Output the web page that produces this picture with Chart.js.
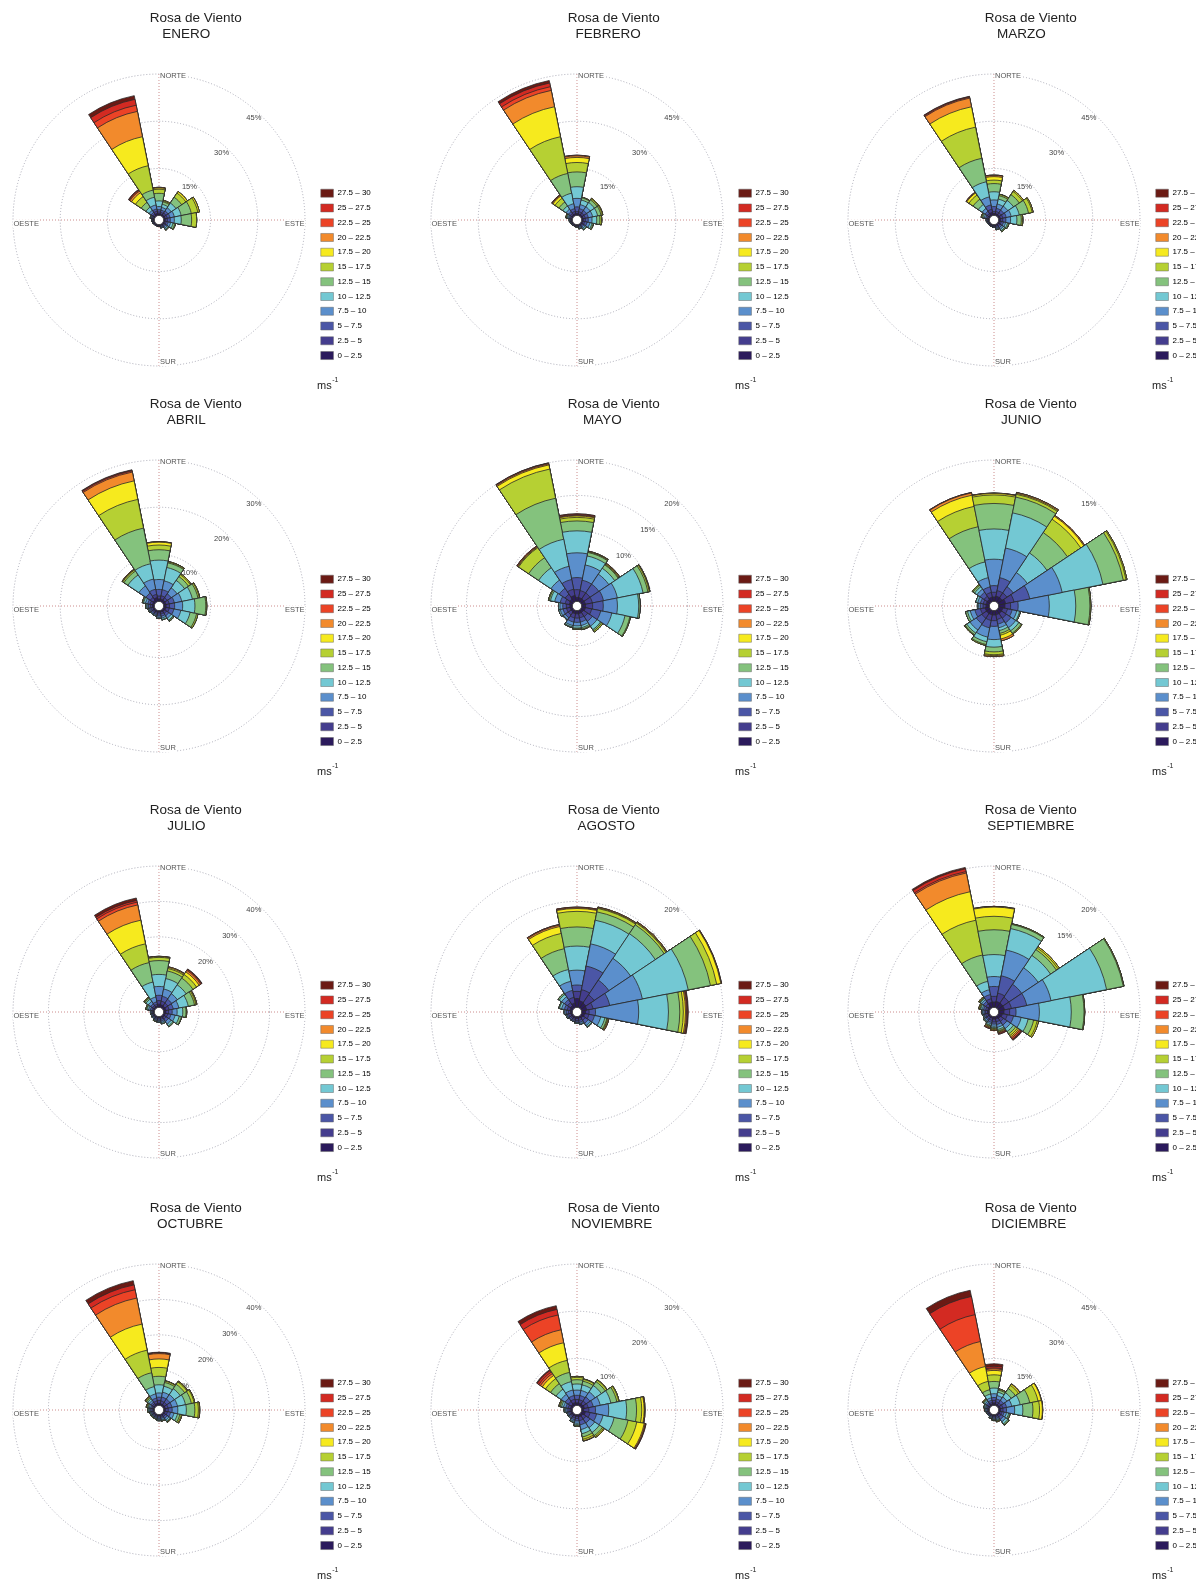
<!DOCTYPE html>
<html>
<head>
<meta charset="utf-8">
<script src="https://cdn.jsdelivr.net/npm/chart.js"></script>
<style>
  html, body { margin: 0; padding: 0; background: #fff; overflow: hidden; }
  #wrap { position: relative; width: 1196px; height: 1585px; overflow: hidden; }
  #wrap canvas { position: absolute; }
</style>
</head>
<body>
<div id="wrap"></div>
<script>
// 16 directions, clockwise from north
const directions = ['N', 'NNE', 'NE', 'ENE', 'E', 'ESE', 'SE', 'SSE', 'S', 'SSW', 'SW', 'WSW', 'W', 'WNW', 'NW', 'NNW']
const speedBins = ['0 – 2.5', '2.5 – 5', '5 – 7.5', '7.5 – 10', '10 – 12.5', '12.5 – 15', '15 – 17.5', '17.5 – 20', '20 – 22.5', '22.5 – 25', '25 – 27.5', '27.5 – 30']
const binColors = ['#2b1a5c', '#443d8e', '#4b56a6', '#5b8fcc', '#73c8d3', '#84c27d', '#b6d033', '#f6ea1e', '#f28a2c', '#ec4326', '#d32a22', '#6b1a14']
const months = ['ENERO', 'FEBRERO', 'MARZO', 'ABRIL', 'MAYO', 'JUNIO', 'JULIO', 'AGOSTO', 'SEPTIEMBRE', 'OCTUBRE', 'NOVIEMBRE', 'DICIEMBRE']
// outer ring (%) and ring step (%) of each rose
const ringMax = [45, 45, 45, 30, 20, 15, 40, 20, 20, 40, 30, 45]
const ringStep = [15, 15, 15, 10, 5, 5, 10, 5, 5, 10, 10, 15]

// frequency (%) per direction (rows) and speed bin (columns, 0-2.5 ... 27.5-30 m/s)
const enero = [
  [0.6, 0.6, 0.7, 1.0, 1.8, 2.4, 1.3, 0.4, 0.2, 0, 0, 0],
  [0.5, 0.6, 0.7, 0.9, 1.0, 0.8, 0.3, 0.2, 0, 0, 0, 0],
  [0.6, 0.7, 0.8, 1.2, 1.8, 2.2, 1.6, 0.6, 0, 0, 0, 0],
  [0.6, 0.7, 0.9, 1.4, 2.2, 3.3, 2.1, 0.5, 0, 0, 0, 0],
  [0.6, 0.7, 0.9, 1.3, 2.2, 3.3, 1.6, 0, 0, 0, 0, 0],
  [0.5, 0.5, 0.6, 0.8, 0.8, 0.6, 0.2, 0, 0, 0, 0, 0],
  [0.4, 0.4, 0.5, 0.5, 0.4, 0.2, 0.1, 0, 0, 0, 0, 0],
  [0.3, 0.3, 0.3, 0.2, 0.1, 0, 0, 0, 0, 0, 0, 0],
  [0.3, 0.2, 0.1, 0.1, 0, 0, 0, 0, 0, 0, 0, 0],
  [0.3, 0.2, 0.1, 0, 0, 0, 0, 0, 0, 0, 0, 0],
  [0.3, 0.2, 0.1, 0, 0, 0, 0, 0, 0, 0, 0, 0],
  [0.3, 0.2, 0.2, 0.1, 0, 0, 0, 0, 0, 0, 0, 0],
  [0.3, 0.3, 0.2, 0.1, 0.1, 0, 0, 0, 0, 0, 0, 0],
  [0.4, 0.4, 0.3, 0.2, 0.1, 0.1, 0, 0, 0, 0, 0, 0],
  [0.5, 0.5, 0.6, 0.8, 1.2, 1.8, 2.2, 1.5, 0.6, 0.3, 0.2, 0.1],
  [0.8, 0.7, 0.7, 1.3, 2.5, 2.3, 7.9, 9.4, 8.2, 2.0, 1.9, 1.2]
]
const febrero = [
  [0.7, 0.6, 1.5, 2.7, 3.7, 4.7, 3.0, 1.6, 0.5, 0.2, 0, 0],
  [0.6, 0.7, 1.0, 1.3, 1.5, 0.7, 0.2, 0, 0, 0, 0, 0],
  [0.6, 0.7, 1.0, 1.4, 1.6, 1.0, 0.4, 0.2, 0, 0, 0, 0],
  [0.6, 0.7, 1.0, 1.4, 1.6, 1.1, 0.4, 0.2, 0, 0, 0, 0],
  [0.6, 0.7, 0.9, 1.2, 1.5, 1.0, 0.5, 0.1, 0, 0, 0, 0],
  [0.5, 0.6, 0.8, 0.9, 0.7, 0.4, 0.1, 0, 0, 0, 0, 0],
  [0.4, 0.4, 0.5, 0.5, 0.4, 0.2, 0, 0, 0, 0, 0, 0],
  [0.3, 0.3, 0.3, 0.3, 0.2, 0.1, 0, 0, 0, 0, 0, 0],
  [0.3, 0.2, 0.2, 0.1, 0.1, 0, 0, 0, 0, 0, 0, 0],
  [0.3, 0.2, 0.1, 0.1, 0, 0, 0, 0, 0, 0, 0, 0],
  [0.3, 0.2, 0.1, 0.1, 0, 0, 0, 0, 0, 0, 0, 0],
  [0.3, 0.2, 0.2, 0.1, 0.1, 0, 0, 0, 0, 0, 0, 0],
  [0.3, 0.3, 0.2, 0.2, 0.1, 0, 0, 0, 0, 0, 0, 0],
  [0.4, 0.4, 0.4, 0.4, 0.3, 0.2, 0.1, 0.1, 0, 0, 0, 0],
  [0.6, 0.6, 0.7, 0.9, 1.2, 1.5, 1.5, 0.8, 0.3, 0.1, 0.1, 0],
  [0.7, 0.7, 0.9, 1.6, 3.4, 6.4, 11.9, 9.7, 5.3, 1.2, 1.2, 0.8]
]
const marzo = [
  [0.7, 0.6, 1.6, 2.1, 2.6, 2.6, 1.1, 1.1, 0.4, 0.1, 0, 0],
  [0.7, 0.7, 1.0, 1.4, 1.6, 1.1, 0.4, 0.1, 0, 0, 0, 0],
  [0.7, 0.7, 1.0, 1.5, 2.2, 2.2, 1.2, 0.4, 0, 0, 0, 0],
  [0.7, 0.8, 1.1, 1.6, 2.6, 3.0, 1.2, 0.3, 0, 0, 0, 0],
  [0.7, 0.7, 1.0, 1.5, 2.0, 1.4, 0.4, 0.1, 0, 0, 0, 0],
  [0.5, 0.5, 0.7, 0.7, 0.6, 0.4, 0.1, 0, 0, 0, 0, 0],
  [0.5, 0.5, 0.6, 0.6, 0.5, 0.3, 0.1, 0, 0, 0, 0, 0],
  [0.4, 0.4, 0.4, 0.3, 0.2, 0.1, 0, 0, 0, 0, 0, 0],
  [0.3, 0.3, 0.2, 0.1, 0.1, 0, 0, 0, 0, 0, 0, 0],
  [0.3, 0.2, 0.2, 0.1, 0, 0, 0, 0, 0, 0, 0, 0],
  [0.3, 0.2, 0.1, 0.1, 0, 0, 0, 0, 0, 0, 0, 0],
  [0.3, 0.2, 0.2, 0.1, 0.1, 0, 0, 0, 0, 0, 0, 0],
  [0.3, 0.3, 0.2, 0.2, 0.1, 0, 0, 0, 0, 0, 0, 0],
  [0.4, 0.4, 0.5, 0.5, 0.4, 0.3, 0.2, 0.1, 0, 0, 0, 0],
  [0.6, 0.6, 0.8, 1.1, 1.5, 2.0, 1.6, 0.8, 0.2, 0.1, 0, 0],
  [1.1, 1.0, 1.4, 2.6, 4.9, 7.6, 10.1, 6.6, 2.8, 0.3, 0.2, 0.1]
]
const abril = [
  [0.6, 0.6, 1.4, 2.1, 4.1, 2.2, 1.0, 0.6, 0.1, 0, 0, 0],
  [0.6, 0.7, 1.3, 1.9, 2.9, 1.0, 0.2, 0.1, 0, 0, 0, 0],
  [0.6, 0.6, 1.0, 1.5, 1.9, 1.0, 0.5, 0.2, 0, 0, 0, 0],
  [0.6, 0.7, 1.1, 1.6, 2.3, 1.2, 0.3, 0.1, 0, 0, 0, 0],
  [0.6, 0.7, 1.1, 1.7, 2.6, 2.3, 0.2, 0, 0, 0, 0, 0],
  [0.6, 0.7, 1.0, 1.5, 2.0, 1.4, 0.3, 0, 0, 0, 0, 0],
  [0.5, 0.5, 0.6, 0.6, 0.5, 0.2, 0.1, 0, 0, 0, 0, 0],
  [0.4, 0.4, 0.5, 0.4, 0.3, 0.1, 0, 0, 0, 0, 0, 0],
  [0.4, 0.4, 0.4, 0.3, 0.2, 0, 0, 0, 0, 0, 0, 0],
  [0.4, 0.3, 0.3, 0.2, 0.1, 0, 0, 0, 0, 0, 0, 0],
  [0.4, 0.3, 0.3, 0.2, 0.1, 0, 0, 0, 0, 0, 0, 0],
  [0.4, 0.4, 0.3, 0.2, 0.1, 0.1, 0, 0, 0, 0, 0, 0],
  [0.5, 0.4, 0.4, 0.3, 0.2, 0.1, 0, 0, 0, 0, 0, 0],
  [0.5, 0.5, 0.5, 0.5, 0.4, 0.2, 0.1, 0, 0, 0, 0, 0],
  [0.6, 0.7, 1.1, 1.8, 2.8, 1.0, 0.3, 0.1, 0.1, 0, 0, 0],
  [0.9, 0.7, 1.1, 2.2, 3.3, 7.7, 6.2, 4.0, 1.9, 0.25, 0.15, 0.1]
]
const mayo = [
  [0.6, 1.1, 1.7, 3.5, 3.1, 1.4, 0.5, 0.2, 0.1, 0.1, 0.1, 0],
  [0.6, 1.0, 1.5, 2.2, 1.3, 0.5, 0.1, 0.05, 0.05, 0, 0, 0],
  [0.6, 1.0, 1.5, 1.7, 1.0, 0.6, 0.1, 0.1, 0.1, 0, 0, 0],
  [0.6, 1.0, 1.6, 2.0, 3.7, 0.7, 0.2, 0.05, 0.05, 0, 0, 0],
  [0.6, 1.0, 1.5, 2.0, 3.0, 0.2, 0, 0, 0, 0, 0, 0],
  [0.6, 0.9, 1.3, 1.6, 1.9, 0.7, 0.1, 0, 0, 0, 0, 0],
  [0.5, 0.7, 0.8, 0.8, 0.6, 0.2, 0.2, 0, 0, 0, 0, 0],
  [0.5, 0.6, 0.6, 0.5, 0.3, 0.2, 0.1, 0, 0, 0, 0, 0],
  [0.5, 0.6, 0.6, 0.5, 0.3, 0.1, 0.1, 0, 0, 0, 0, 0],
  [0.5, 0.6, 0.6, 0.5, 0.2, 0.1, 0, 0, 0, 0, 0, 0],
  [0.4, 0.5, 0.5, 0.3, 0.1, 0, 0, 0, 0, 0, 0, 0],
  [0.4, 0.5, 0.5, 0.4, 0.2, 0, 0, 0, 0, 0, 0, 0],
  [0.4, 0.5, 0.5, 0.4, 0.2, 0, 0, 0, 0, 0, 0, 0],
  [0.5, 0.6, 0.7, 0.8, 0.6, 0.2, 0.1, 0, 0, 0, 0, 0],
  [0.6, 0.8, 1.0, 1.4, 2.1, 1.7, 1.7, 0.1, 0.1, 0.1, 0, 0],
  [0.9, 0.9, 1.4, 1.9, 3.9, 5.9, 4.2, 0.6, 0.15, 0.1, 0.03, 0.02]
]
const junio = [
  [0.5, 0.5, 0.7, 2.8, 3.2, 2.7, 0.9, 0.15, 0.05, 0, 0, 0],
  [0.6, 0.6, 1.4, 3.2, 3.8, 1.7, 0.3, 0.1, 0.1, 0, 0, 0],
  [0.6, 0.6, 0.8, 1.8, 2.5, 2.6, 1.7, 0.4, 0.1, 0, 0, 0],
  [0.8, 0.9, 1.7, 3.5, 4.4, 2.2, 0.3, 0.1, 0, 0, 0, 0],
  [0.7, 0.6, 0.8, 3.3, 2.8, 1.5, 0.1, 0, 0, 0, 0, 0],
  [0.5, 0.5, 0.5, 0.5, 0.3, 0.1, 0, 0, 0, 0, 0, 0],
  [0.5, 0.6, 0.6, 0.6, 0.4, 0.3, 0.1, 0, 0, 0, 0, 0],
  [0.5, 0.5, 0.5, 0.4, 0.3, 0.3, 0.2, 0.4, 0.2, 0, 0, 0],
  [0.5, 0.6, 0.6, 1.4, 0.8, 0.5, 0.3, 0.1, 0.1, 0, 0, 0],
  [0.5, 0.6, 0.8, 1.0, 0.5, 0.3, 0.1, 0, 0, 0, 0, 0],
  [0.5, 0.6, 0.7, 0.8, 0.4, 0.2, 0.05, 0.05, 0, 0, 0, 0],
  [0.5, 0.5, 0.6, 0.5, 0.3, 0.2, 0, 0, 0, 0, 0, 0],
  [0.4, 0.3, 0.3, 0.2, 0.1, 0, 0, 0, 0, 0, 0, 0],
  [0.4, 0.3, 0.3, 0.3, 0.2, 0, 0, 0, 0, 0, 0, 0],
  [0.4, 0.4, 0.5, 0.4, 0.3, 0.2, 0.1, 0, 0, 0, 0, 0],
  [0.5, 0.5, 0.6, 1.0, 1.7, 3.8, 2.2, 1.2, 0.25, 0.05, 0, 0]
]
const julio = [
  [1.0, 1.0, 1.5, 2.5, 3.4, 3.9, 0.9, 0.2, 0.1, 0, 0, 0],
  [0.9, 1.0, 1.4, 2.1, 3.0, 2.2, 0.7, 0.3, 0.2, 0, 0, 0],
  [0.8, 1.0, 1.3, 1.9, 3.0, 2.3, 1.2, 0.9, 0.5, 0.3, 0.1, 0.1],
  [0.8, 0.9, 1.2, 1.6, 2.7, 1.8, 0.4, 0.2, 0.1, 0, 0, 0],
  [0.7, 0.8, 1.0, 1.4, 1.6, 0.9, 0.2, 0, 0, 0, 0, 0],
  [0.6, 0.7, 0.9, 1.2, 1.2, 0.6, 0.1, 0, 0, 0, 0, 0],
  [0.6, 0.6, 0.8, 0.9, 0.6, 0.3, 0, 0, 0, 0, 0, 0],
  [0.4, 0.5, 0.5, 0.4, 0.3, 0.1, 0, 0, 0, 0, 0, 0],
  [0.4, 0.4, 0.4, 0.3, 0.2, 0, 0, 0, 0, 0, 0, 0],
  [0.4, 0.4, 0.3, 0.2, 0.1, 0.1, 0.1, 0, 0, 0, 0, 0],
  [0.3, 0.3, 0.3, 0.2, 0.1, 0, 0, 0, 0, 0, 0, 0],
  [0.3, 0.3, 0.2, 0.2, 0.1, 0, 0, 0, 0, 0, 0, 0],
  [0.3, 0.3, 0.3, 0.2, 0.1, 0, 0, 0, 0, 0, 0, 0],
  [0.4, 0.4, 0.5, 0.5, 0.4, 0.2, 0.2, 0, 0, 0, 0, 0],
  [0.5, 0.5, 0.6, 0.8, 0.8, 0.4, 0.2, 0.1, 0, 0, 0, 0],
  [0.5, 0.5, 0.7, 1.4, 4.3, 5.6, 5.4, 6.8, 4.4, 0.8, 0.5, 0.7]
]
const agosto = [
  [1.3, 1.0, 0.9, 2.1, 3.4, 2.7, 2.2, 0.4, 0.1, 0.1, 0, 0],
  [1.0, 1.6, 3.4, 3.2, 3.4, 1.2, 0.5, 0.1, 0.1, 0, 0, 0],
  [0.9, 1.4, 2.5, 3.7, 4.2, 1.5, 0.3, 0.1, 0.1, 0, 0, 0],
  [0.8, 0.9, 2.4, 4.7, 6.6, 3.2, 0.9, 0.6, 0.05, 0.05, 0, 0],
  [0.6, 0.5, 0.9, 6.1, 4.2, 1.6, 0.5, 0.3, 0.15, 0.1, 0.1, 0.05],
  [0.5, 0.6, 0.8, 0.9, 0.6, 0.3, 0.1, 0.1, 0.1, 0, 0, 0],
  [0.4, 0.4, 0.5, 0.4, 0.2, 0.1, 0, 0, 0, 0, 0, 0],
  [0.3, 0.3, 0.3, 0.2, 0.1, 0, 0, 0, 0, 0, 0, 0],
  [0.3, 0.3, 0.2, 0.1, 0.1, 0, 0, 0, 0, 0, 0, 0],
  [0.3, 0.2, 0.2, 0.1, 0, 0, 0, 0, 0, 0, 0, 0],
  [0.3, 0.2, 0.2, 0.1, 0, 0, 0, 0, 0, 0, 0, 0],
  [0.3, 0.3, 0.2, 0.1, 0.1, 0, 0, 0, 0, 0, 0, 0],
  [0.3, 0.3, 0.3, 0.2, 0.1, 0, 0, 0, 0, 0, 0, 0],
  [0.4, 0.4, 0.4, 0.4, 0.3, 0.1, 0, 0, 0, 0, 0, 0],
  [0.5, 0.5, 0.5, 0.5, 0.4, 0.2, 0, 0, 0, 0, 0, 0],
  [0.7, 0.8, 1.0, 1.3, 1.7, 3.0, 2.2, 1.0, 0.2, 0.1, 0, 0]
]
const septiembre = [
  [0.8, 0.8, 1.4, 1.4, 3.1, 3.5, 1.9, 1.3, 0.05, 0.05, 0, 0],
  [0.9, 1.2, 2.5, 3.7, 3.1, 0.6, 0.1, 0, 0, 0, 0, 0],
  [0.9, 1.0, 2.2, 2.8, 2.1, 1.0, 0.3, 0.2, 0, 0, 0, 0],
  [0.9, 1.0, 2.2, 3.5, 8.0, 2.4, 0.1, 0, 0, 0, 0, 0],
  [0.8, 0.8, 0.9, 3.3, 4.5, 1.8, 0.1, 0, 0, 0, 0, 0],
  [0.6, 0.7, 0.9, 1.1, 1.0, 0.8, 0.5, 0.2, 0, 0, 0, 0],
  [0.5, 0.5, 0.6, 0.6, 0.5, 0.4, 0.3, 0.2, 0.2, 0.2, 0.1, 0.1],
  [0.4, 0.4, 0.4, 0.4, 0.3, 0.2, 0.1, 0.1, 0.1, 0.1, 0.1, 0],
  [0.4, 0.4, 0.3, 0.3, 0.2, 0.1, 0.1, 0.1, 0.1, 0, 0, 0],
  [0.3, 0.3, 0.3, 0.2, 0.2, 0.1, 0.1, 0.1, 0.1, 0.1, 0, 0],
  [0.3, 0.3, 0.2, 0.2, 0.1, 0.1, 0, 0, 0, 0, 0, 0],
  [0.3, 0.3, 0.2, 0.1, 0.1, 0, 0, 0, 0, 0, 0, 0],
  [0.3, 0.3, 0.2, 0.2, 0.1, 0, 0, 0, 0, 0, 0, 0],
  [0.3, 0.3, 0.3, 0.2, 0.2, 0.1, 0.1, 0.1, 0, 0, 0, 0],
  [0.4, 0.4, 0.4, 0.3, 0.2, 0.1, 0.1, 0.1, 0, 0, 0, 0],
  [0.8, 0.5, 0.6, 0.7, 1.2, 3.8, 5.0, 4.1, 2.7, 0.2, 0.4, 0.2]
]
const octubre = [
  [0.7, 0.8, 0.9, 1.2, 2.3, 2.4, 2.5, 2.4, 1.5, 0.2, 0.1, 0.1],
  [0.6, 0.8, 1.1, 1.4, 1.7, 1.1, 0.4, 0.1, 0, 0, 0, 0],
  [0.6, 0.8, 1.1, 1.5, 2.0, 1.5, 0.8, 0.2, 0.1, 0, 0, 0],
  [0.6, 0.8, 1.1, 1.6, 2.3, 1.7, 0.8, 0.2, 0, 0, 0, 0],
  [0.6, 0.8, 1.1, 1.6, 2.4, 2.4, 1.0, 0.3, 0.1, 0, 0, 0],
  [0.5, 0.7, 0.9, 1.0, 1.0, 0.7, 0.4, 0.2, 0, 0, 0, 0],
  [0.5, 0.5, 0.6, 0.6, 0.4, 0.2, 0.1, 0.1, 0, 0, 0, 0],
  [0.4, 0.4, 0.4, 0.4, 0.2, 0.1, 0.1, 0, 0, 0, 0, 0],
  [0.4, 0.4, 0.4, 0.3, 0.2, 0.1, 0, 0, 0, 0, 0, 0],
  [0.4, 0.3, 0.3, 0.2, 0.1, 0.1, 0.1, 0, 0, 0, 0, 0],
  [0.4, 0.3, 0.3, 0.2, 0.1, 0.1, 0.1, 0, 0, 0, 0, 0],
  [0.4, 0.3, 0.3, 0.2, 0.2, 0.1, 0, 0, 0, 0, 0, 0],
  [0.4, 0.4, 0.4, 0.3, 0.3, 0.2, 0, 0, 0, 0, 0, 0],
  [0.4, 0.4, 0.4, 0.4, 0.3, 0.2, 0.2, 0.1, 0.1, 0, 0, 0],
  [0.5, 0.5, 0.5, 0.6, 0.5, 0.4, 0.3, 0.1, 0.1, 0, 0, 0],
  [0.7, 0.7, 0.8, 1.2, 2.1, 4.0, 6.5, 7.5, 7.5, 2.4, 1.4, 1.2]
]
const noviembre = [
  [0.6, 0.7, 0.9, 1.1, 1.3, 0.9, 0.5, 0.2, 0, 0, 0, 0],
  [0.6, 0.7, 0.9, 1.1, 1.2, 0.8, 0.4, 0.1, 0, 0, 0, 0],
  [0.6, 0.8, 1.0, 1.3, 1.6, 1.0, 0.4, 0.1, 0, 0, 0, 0],
  [0.7, 0.8, 1.1, 1.5, 2.3, 1.3, 0.4, 0.1, 0, 0, 0, 0],
  [0.5, 1.1, 1.4, 2.8, 3.8, 2.1, 1.1, 0.5, 0.1, 0.1, 0, 0],
  [0.9, 1.0, 1.4, 1.4, 2.4, 3.0, 1.9, 1.6, 0.2, 0.1, 0.1, 0],
  [0.6, 0.8, 1.0, 1.2, 1.2, 0.8, 0.3, 0.2, 0, 0, 0, 0],
  [0.6, 0.8, 0.9, 1.0, 0.9, 0.7, 0.5, 0.3, 0.1, 0, 0, 0],
  [0.4, 0.5, 0.5, 0.5, 0.3, 0.2, 0.1, 0, 0, 0, 0, 0],
  [0.4, 0.4, 0.4, 0.3, 0.2, 0.1, 0, 0, 0, 0, 0, 0],
  [0.4, 0.3, 0.3, 0.2, 0.1, 0, 0, 0, 0, 0, 0, 0],
  [0.4, 0.3, 0.3, 0.2, 0.1, 0, 0, 0, 0, 0, 0, 0],
  [0.4, 0.4, 0.4, 0.3, 0.2, 0.1, 0, 0, 0, 0, 0, 0],
  [0.5, 0.5, 0.5, 0.5, 0.4, 0.3, 0.2, 0.1, 0, 0, 0, 0],
  [0.6, 0.7, 0.8, 1.0, 1.3, 1.4, 1.3, 0.8, 0.5, 0.4, 0.4, 0.2],
  [0.7, 0.7, 0.8, 1.2, 1.8, 2.0, 2.6, 3.8, 2.8, 3.2, 1.2, 0.8]
]
const diciembre = [
  [0.9, 0.8, 0.9, 1.2, 1.8, 2.1, 2.1, 1.4, 0.5, 0.3, 0.5, 0.8],
  [0.6, 0.7, 0.9, 1.1, 1.1, 0.7, 0.3, 0.1, 0, 0, 0, 0],
  [0.6, 0.7, 1.0, 1.3, 1.6, 1.6, 1.2, 0.5, 0.1, 0, 0, 0],
  [0.7, 0.8, 1.2, 1.7, 2.7, 3.1, 2.7, 1.0, 0.1, 0, 0, 0],
  [0.7, 0.8, 1.1, 2.6, 2.6, 3.2, 2.1, 0.9, 0.1, 0, 0, 0],
  [0.6, 0.6, 0.7, 0.8, 0.7, 0.4, 0.1, 0, 0, 0, 0, 0],
  [0.6, 0.7, 0.9, 0.9, 0.8, 0.4, 0.1, 0, 0, 0, 0, 0],
  [0.4, 0.4, 0.5, 0.4, 0.3, 0.2, 0.1, 0.1, 0.1, 0, 0, 0],
  [0.4, 0.4, 0.4, 0.3, 0.2, 0.1, 0.1, 0.1, 0, 0, 0, 0],
  [0.3, 0.3, 0.3, 0.2, 0.2, 0.1, 0.1, 0, 0, 0, 0, 0],
  [0.3, 0.3, 0.2, 0.2, 0.1, 0, 0, 0, 0, 0, 0, 0],
  [0.3, 0.3, 0.2, 0.2, 0.1, 0, 0, 0, 0, 0, 0, 0],
  [0.3, 0.3, 0.3, 0.3, 0.2, 0.1, 0, 0, 0, 0, 0, 0],
  [0.4, 0.4, 0.4, 0.3, 0.3, 0.2, 0, 0, 0, 0, 0, 0],
  [0.5, 0.5, 0.5, 0.5, 0.4, 0.3, 0.2, 0.1, 0, 0, 0, 0],
  [0.6, 0.5, 0.7, 0.8, 1.2, 1.4, 2.7, 4.8, 8.1, 8.7, 5.9, 2.0]
]
const monthData = [enero, febrero, marzo, abril, mayo, junio, julio, agosto, septiembre, octubre, noviembre, diciembre]

const FONT = '"Liberation Sans", Arial, Helvetica, sans-serif'
Chart.defaults.font.family = FONT

const CANVAS_W = 418
const CANVAS_H = 400
const colLeft = [0, 418, 835]
const rowTop = [0, 386, 792, 1190]

// legend geometry: the legend column starts right after the plot area
const LEGEND_BOX_W = 12.7
const LEGEND_FONT = 8
const LEGEND_PAD = 6.76
const PLOT_RIGHT = 314
const measureCtx = document.createElement('canvas').getContext('2d')
measureCtx.font = LEGEND_FONT + 'px ' + FONT
const longestLabel = Math.max(...speedBins.map((t) => measureCtx.measureText(t).width))
const legendWidth = LEGEND_PAD + LEGEND_BOX_W + LEGEND_FONT / 2 + longestLabel + 10
const padRight = CANVAS_W - PLOT_RIGHT - legendWidth

const roseDecor = {
    id: 'roseDecor',
    beforeDatasetsDraw(chart) {
        const s = chart.scales.r
        const ctx = chart.ctx
        const cx = s.xCenter
        const cy = s.yCenter
        const R = s.drawingArea

        ctx.save()
        // compass cross
        ctx.strokeStyle = '#cc8c8c'
        ctx.lineWidth = 1
        ctx.setLineDash([1, 2])
        ctx.beginPath()
        ctx.moveTo(cx - R, cy)
        ctx.lineTo(cx + R, cy)
        ctx.moveTo(cx, cy - R)
        ctx.lineTo(cx, cy + R)
        ctx.stroke()
        ctx.setLineDash([])

        // ring labels along the north-east diagonal
        ctx.font = '7.5px ' + FONT
        ctx.fillStyle = '#444'
        ctx.textAlign = 'center'
        ctx.textBaseline = 'middle'
        const a = 43 * Math.PI / 180
        s.ticks.forEach((t) => {
            if (t.value <= 0) return
            const d = s.getDistanceFromCenterForValue(t.value) - 7
            ctx.fillText(t.value + '%', cx + d * Math.sin(a), cy - d * Math.cos(a))
        })

        // compass names
        const label = (text, x, y, alignRight) => {
            const w = ctx.measureText(text).width
            const left = alignRight ? x - w : x
            ctx.fillStyle = '#fff'
            ctx.fillRect(left - 0.5, y - 4.5, w + 1, 9)
            ctx.fillStyle = '#555'
            ctx.fillText(text, left, y)
        }
        ctx.textAlign = 'left'
        label('NORTE', cx + 1, cy - R + 2, false)
        label('SUR', cx + 1, cy + R - 4.5, false)
        label('ESTE', cx + R - 0.5, cy + 3.8, true)
        label('OESTE', cx - R + 0.5, cy + 3.8, false)
        ctx.restore()
    },
    afterDatasetsDraw(chart) {
        const s = chart.scales.r
        const ctx = chart.ctx
        const r0 = s.getDistanceFromCenterForValue(0)
        ctx.save()
        ctx.beginPath()
        ctx.arc(s.xCenter, s.yCenter, r0 + 0.3, 0, Math.PI * 2)
        ctx.fillStyle = '#fff'
        ctx.fill()
        ctx.strokeStyle = '#333'
        ctx.lineWidth = 0.8
        ctx.stroke()
        ctx.restore()
    },
    afterDraw(chart, args, opts) {
        const s = chart.scales.r
        const ctx = chart.ctx
        const cx = s.xCenter
        const cy = s.yCenter
        ctx.save()
        ctx.fillStyle = '#222'
        ctx.textAlign = 'left'
        ctx.textBaseline = 'middle'
        ctx.font = '13.5px ' + FONT
        const tx = cx + 36.7
        const line1 = 'Rosa de Viento'
        const line2 = opts.month.padEnd(10, ' ')
        ctx.fillText(line1, tx - ctx.measureText(line1).width / 2, cy - 202)
        ctx.fillText(line2, tx - ctx.measureText(line2).width / 2, cy - 186)

        ctx.font = '11px ' + FONT
        ctx.fillText('ms', cx + 158, cy + 166)
        const wm = ctx.measureText('ms').width
        ctx.font = '7px ' + FONT
        ctx.fillText('-1', cx + 158 + wm + 0.5, cy + 160)
        ctx.restore()
    }
}

const wrap = document.getElementById('wrap')

months.forEach((month, m) => {
    const rows = monthData[m]
    const max = ringMax[m]
    const step = ringStep[m]

    // stacked (cumulative) radius per speed bin
    const datasets = speedBins.map((bin, k) => ({
        label: bin,
        data: rows.map((row) => row.slice(0, k + 1).reduce((acc, v) => acc + v, 0)),
        backgroundColor: binColors[k],
        borderColor: '#2a2a2a',
        borderWidth: 0.8
    }))

    const canvas = document.createElement('canvas')
    canvas.width = CANVAS_W
    canvas.height = CANVAS_H
    canvas.style.left = colLeft[m % 3] + 'px'
    canvas.style.top = rowTop[Math.floor(m / 3)] + 'px'
    wrap.appendChild(canvas)

    new Chart(canvas, {
        type: 'polarArea',
        data: { labels: directions, datasets },
        options: {
            responsive: false,
            animation: false,
            events: [],
            layout: {
                padding: { left: 4, right: padRight, top: 73.7, bottom: CANVAS_H - 366.3 }
            },
            scales: {
                r: {
                    min: -max * 0.0305,
                    max: max,
                    startAngle: -11.25,
                    ticks: { display: false },
                    grid: { circular: true, color: '#a8a8b4', lineWidth: 1, borderDash: [1, 2] },
                    border: { dash: [1, 2] },
                    angleLines: { display: false },
                    pointLabels: { display: false },
                    afterBuildTicks: (scale) => {
                        const t = [{ value: 0 }]
                        for (let v = step; v <= max + 1e-9; v += step) t.push({ value: v })
                        scale.ticks = t
                    }
                }
            },
            plugins: {
                legend: {
                    position: 'right',
                    align: 'end',
                    labels: {
                        boxWidth: LEGEND_BOX_W,
                        boxHeight: 8,
                        padding: LEGEND_PAD,
                        color: '#333',
                        font: { size: LEGEND_FONT, family: FONT },
                        generateLabels: (chart) => chart.data.datasets.map((ds, i) => ({
                            text: ds.label,
                            fillStyle: ds.backgroundColor,
                            strokeStyle: '#666',
                            lineWidth: 0.5,
                            hidden: false,
                            datasetIndex: i
                        })).reverse()
                    }
                },
                title: { display: false },
                tooltip: { enabled: false },
                roseDecor: { month }
            }
        },
        plugins: [roseDecor]
    })
})
</script>
</body>
</html>
